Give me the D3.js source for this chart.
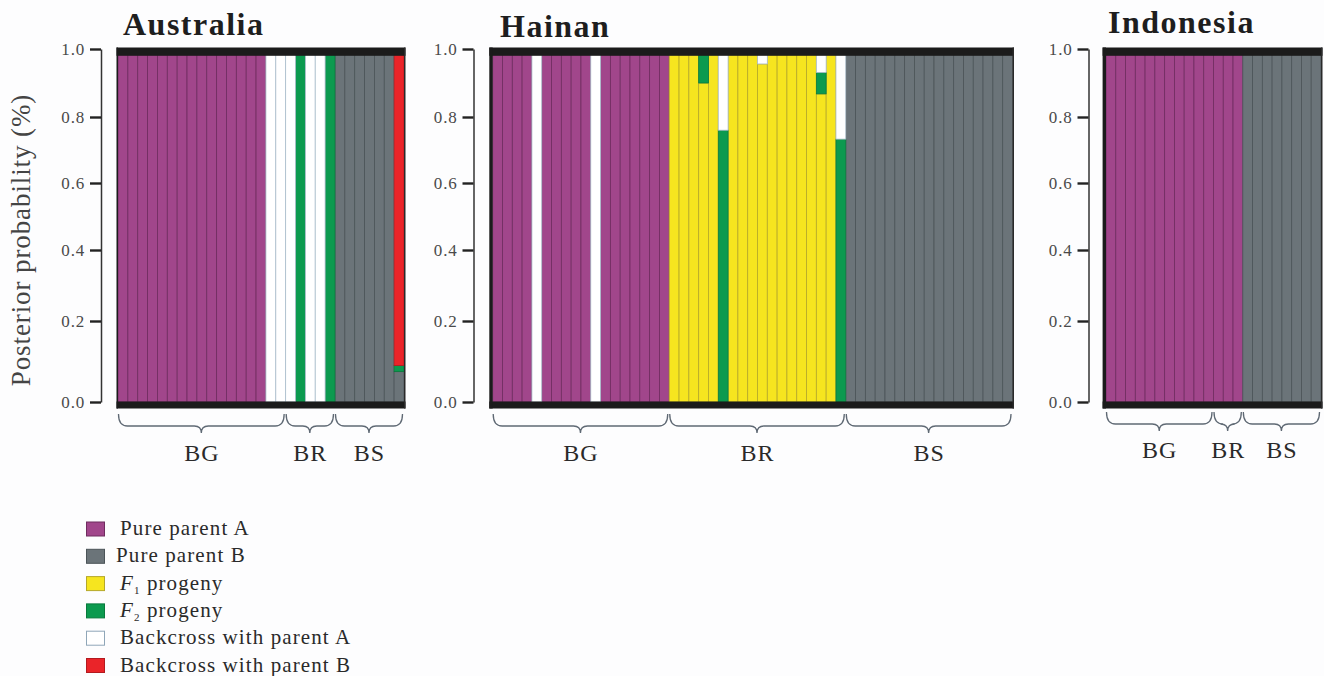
<!DOCTYPE html>
<html>
<head>
<meta charset="utf-8">
<script src="https://cdn.jsdelivr.net/npm/d3@7"></script>
<style>
  body { margin: 0; background: #fdfdfe; }
  svg { display: block; }
  text { font-family: "Liberation Serif", "Times New Roman", serif; }
</style>
</head>
<body>
<script>
// classes, bottom to top in each bar
const classKeys = ["pureA", "pureB", "f1", "f2", "bxA", "bxB"];
const classLabels = ["Pure parent A", "Pure parent B", "F1 progeny", "F2 progeny", "Backcross with parent A", "Backcross with parent B"];
const classColors = ["#a1468b", "#6b7479", "#f6e51f", "#0c9a4f", "#ffffff", "#ea2429"];
const classStrokes = ["#6f2c5f", "#4b5458", "#b5a82a", "#087a3c", "#a9bccb", "#b31a1f"];
const yTicks = [0, 0.2, 0.4, 0.6, 0.8, 1.0];

// one row per individual: [pure A, pure B, F1, F2, backcross A, backcross B]
const australiaRows = [
  [1,0,0,0,0,0], [1,0,0,0,0,0], [1,0,0,0,0,0], [1,0,0,0,0,0], [1,0,0,0,0,0],
  [1,0,0,0,0,0], [1,0,0,0,0,0], [1,0,0,0,0,0], [1,0,0,0,0,0], [1,0,0,0,0,0],
  [1,0,0,0,0,0], [1,0,0,0,0,0], [1,0,0,0,0,0], [1,0,0,0,0,0], [1,0,0,0,0,0],
  [0,0,0,0,1,0], [0,0,0,0,1,0],
  [0,0,0,0,1,0], [0,0,0,1,0,0], [0,0,0,0,1,0], [0,0,0,0,1,0], [0,0,0,1,0,0],
  [0,1,0,0,0,0], [0,1,0,0,0,0], [0,1,0,0,0,0], [0,1,0,0,0,0], [0,1,0,0,0,0],
  [0,1,0,0,0,0], [0,0.075,0,0.015,0,0.91]
];
const australiaGroups = [["BG", 17], ["BR", 5], ["BS", 7]];

const hainanRows = [
  [1,0,0,0,0,0], [1,0,0,0,0,0], [1,0,0,0,0,0], [1,0,0,0,0,0], [0,0,0,0,1,0],
  [1,0,0,0,0,0], [1,0,0,0,0,0], [1,0,0,0,0,0], [1,0,0,0,0,0], [1,0,0,0,0,0],
  [0,0,0,0,1,0], [1,0,0,0,0,0], [1,0,0,0,0,0], [1,0,0,0,0,0], [1,0,0,0,0,0],
  [1,0,0,0,0,0], [1,0,0,0,0,0], [1,0,0,0,0,0],
  [0,0,1,0,0,0], [0,0,1,0,0,0], [0,0,1,0,0,0], [0,0,0.90,0.10,0,0], [0,0,1,0,0,0],
  [0,0,0,0.76,0.24,0], [0,0,1,0,0,0], [0,0,1,0,0,0], [0,0,1,0,0,0], [0,0,0.956,0,0.044,0],
  [0,0,1,0,0,0], [0,0,1,0,0,0], [0,0,1,0,0,0], [0,0,1,0,0,0], [0,0,1,0,0,0],
  [0,0,0.868,0.063,0.069,0], [0,0,1,0,0,0], [0,0,0,0.733,0.267,0],
  [0,1,0,0,0,0], [0,1,0,0,0,0], [0,1,0,0,0,0], [0,1,0,0,0,0], [0,1,0,0,0,0],
  [0,1,0,0,0,0], [0,1,0,0,0,0], [0,1,0,0,0,0], [0,1,0,0,0,0], [0,1,0,0,0,0],
  [0,1,0,0,0,0], [0,1,0,0,0,0], [0,1,0,0,0,0], [0,1,0,0,0,0], [0,1,0,0,0,0],
  [0,1,0,0,0,0], [0,1,0,0,0,0]
];
const hainanGroups = [["BG", 18], ["BR", 18], ["BS", 17]];

const indonesiaRows = [
  [1,0,0,0,0,0], [1,0,0,0,0,0], [1,0,0,0,0,0], [1,0,0,0,0,0], [1,0,0,0,0,0],
  [1,0,0,0,0,0], [1,0,0,0,0,0], [1,0,0,0,0,0], [1,0,0,0,0,0], [1,0,0,0,0,0],
  [1,0,0,0,0,0], [1,0,0,0,0,0], [1,0,0,0,0,0], [1,0,0,0,0,0],
  [0,1,0,0,0,0], [0,1,0,0,0,0], [0,1,0,0,0,0], [0,1,0,0,0,0], [0,1,0,0,0,0],
  [0,1,0,0,0,0], [0,1,0,0,0,0], [0,1,0,0,0,0]
];
const indonesiaGroups = [["BG", 11], ["BR", 3], ["BS", 8]];

// layout of each panel
const panels = [
  { title: "Australia", rows: australiaRows, groups: australiaGroups,
    axisX: 101, left: 118, right: 404, edge: 1.5, titleX: 123, titleY: 35, braceTop: 414, labelY: 461 },
  { title: "Hainan", rows: hainanRows, groups: hainanGroups,
    axisX: 473.5, left: 492.7, right: 1012.5, edge: 3.4, titleX: 500, titleY: 36.5, braceTop: 414, labelY: 461 },
  { title: "Indonesia", rows: indonesiaRows, groups: indonesiaGroups,
    axisX: 1088.5, left: 1106, right: 1321, edge: 3.4, titleX: 1108, titleY: 32.5, braceTop: 412, labelY: 458 }
];

const W = 1324, H = 676;
const svg = d3.select("body").append("svg")
  .attr("width", W)
  .attr("height", H);

svg.append("rect").attr("width", W).attr("height", H).attr("fill", "#fdfdfe");

// the tick marks in the figure are not evenly spaced, so the scale is piecewise
const y = d3.scaleLinear()
  .domain(yTicks)
  .range([402, 321, 250, 183, 117, 49]);

const color = d3.scaleOrdinal().domain(classKeys).range(classColors);
const edgeColor = d3.scaleOrdinal().domain(classKeys).range(classStrokes);
const stack = d3.stack().keys(classKeys);

function bracePath(x0, x1, top) {
  const mid = top + 12, tip = top + 19;
  const xm = (x0 + x1) / 2;
  return `M${x0},${top} Q${x0},${mid} ${x0 + 9},${mid} L${xm - 7},${mid} Q${xm},${mid} ${xm},${tip}` +
         ` Q${xm},${mid} ${xm + 7},${mid} L${x1 - 9},${mid} Q${x1},${mid} ${x1},${top}`;
}

function drawPanel(p) {
  const data = p.rows.map((r, i) => {
    const o = { id: i };
    classKeys.forEach((k, j) => { o[k] = r[j]; });
    return o;
  });

  const x = d3.scaleBand()
    .domain(data.map(d => d.id))
    .range([p.left, p.right]);

  const g = svg.append("g");

  // stacked bars
  g.selectAll("g.layer")
    .data(stack(data))
    .join("g")
    .attr("class", "layer")
    .attr("fill", s => color(s.key))
    .attr("stroke", s => edgeColor(s.key))
    .attr("stroke-width", 0.8)
    .selectAll("rect")
    .data(s => s.filter(d => d[1] > d[0]))
    .join("rect")
    .attr("x", d => x(d.data.id))
    .attr("width", x.bandwidth())
    .attr("y", d => y(d[1]))
    .attr("height", d => y(d[0]) - y(d[1]));

  // black frame bands
  const fx = p.left - p.edge;
  const fw = p.right - p.left + p.edge + 1.5;
  g.append("rect")
    .attr("x", fx).attr("y", y(1) - 1.5)
    .attr("width", fw).attr("height", y(0.98) - y(1) + 1.5)
    .attr("fill", "#1b1b1b");
  g.append("rect")
    .attr("x", fx).attr("y", y(0) - 0.5)
    .attr("width", fw).attr("height", 7)
    .attr("fill", "#1b1b1b");
  g.append("rect")
    .attr("x", fx).attr("y", y(1) - 1.5)
    .attr("width", p.edge).attr("height", y(0) - y(1) + 8)
    .attr("fill", "#1b1b1b");
  g.append("rect")
    .attr("x", p.right).attr("y", y(1) - 1.5)
    .attr("width", 1.5).attr("height", y(0) - y(1) + 8)
    .attr("fill", "#2a2a2a");

  // y axis
  const axis = g.append("g")
    .attr("transform", `translate(${p.axisX},0)`)
    .call(d3.axisLeft(y)
      .tickValues(yTicks)
      .tickFormat(d3.format(".1f"))
      .tickSize(11)
      .tickSizeOuter(0)
      .tickPadding(5));
  axis.select(".domain").attr("stroke", "#333").attr("stroke-width", 1.5);
  axis.selectAll(".tick line").attr("stroke", "#222").attr("stroke-width", 2.4);
  axis.selectAll(".tick text")
    .attr("fill", "#4a4a4a")
    .style("font-size", "17px")
    .style("letter-spacing", "0.8px")
    .style("font-family", "'Liberation Serif', 'Times New Roman', serif");

  // group braces and labels
  let start = 0;
  p.groups.forEach(([label, count]) => {
    const gs = x(start);
    const ge = x(start + count - 1) + x.bandwidth();
    g.append("path")
      .attr("d", bracePath(gs + 0.5, ge - 1.5, p.braceTop))
      .attr("fill", "none")
      .attr("stroke", "#5f6974")
      .attr("stroke-width", 1.3);
    g.append("text")
      .attr("x", (gs + ge) / 2)
      .attr("y", p.labelY)
      .attr("text-anchor", "middle")
      .attr("fill", "#2a2a2a")
      .style("font-size", "24px")
      .style("letter-spacing", "1px")
      .text(label);
    start += count;
  });

  // panel title
  g.append("text")
    .attr("x", p.titleX)
    .attr("y", p.titleY)
    .attr("fill", "#1e1e1e")
    .style("font-size", "32px")
    .style("font-weight", "bold")
    .style("letter-spacing", "1.5px")
    .text(p.title);
}

panels.forEach(drawPanel);

// y axis title
svg.append("text")
  .attr("transform", "translate(30,240) rotate(-90)")
  .attr("text-anchor", "middle")
  .attr("fill", "#444")
  .style("font-size", "27px")
  .style("letter-spacing", "0.9px")
  .text("Posterior probability (%)");

// legend
const legendY = d3.scalePoint().domain(classKeys).range([535, 671.5]);
const legend = svg.append("g");

legend.selectAll("rect")
  .data(classKeys)
  .join("rect")
  .attr("x", 86.5)
  .attr("y", k => legendY(k) - 13)
  .attr("width", 18)
  .attr("height", 14)
  .attr("fill", k => color(k))
  .attr("stroke", k => k === "bxA" ? "#8fa6b8" : edgeColor(k))
  .attr("stroke-width", 1);

legend.selectAll("text")
  .data(classKeys)
  .join("text")
  .attr("x", (k, i) => i === 1 ? 116 : 120)
  .attr("y", k => legendY(k))
  .attr("fill", "#2a2a2a")
  .style("font-size", "21px")
  .style("letter-spacing", "1.1px")
  .each(function(k, i) {
    const t = d3.select(this);
    const label = classLabels[i];
    if (k === "f1" || k === "f2") {
      t.append("tspan").style("font-style", "italic").text(label[0]);
      t.append("tspan").attr("dy", 4).style("font-size", "11px").text(label[1]);
      t.append("tspan").attr("dy", -4).text(label.slice(2));
    } else {
      t.text(label);
    }
  });
</script>
</body>
</html>
